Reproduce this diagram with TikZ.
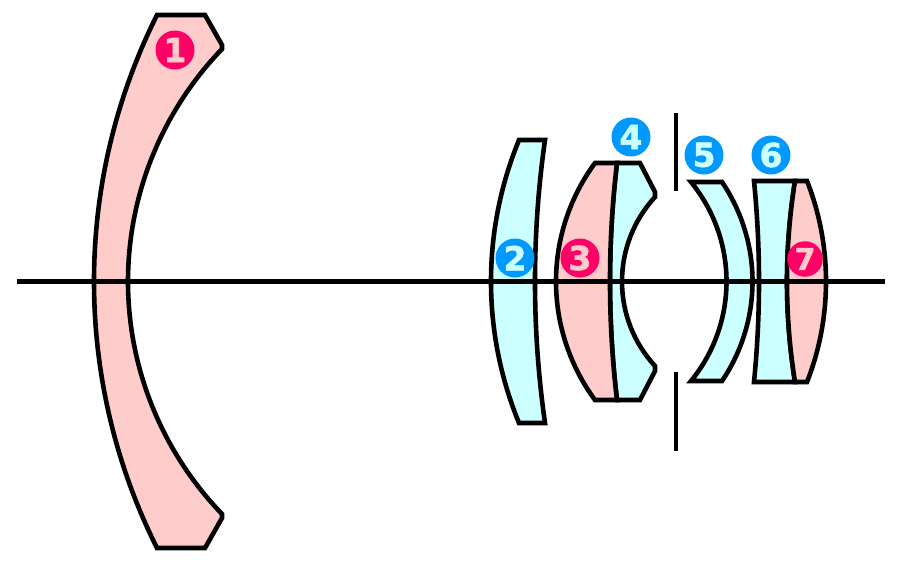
\documentclass[tikz,border=0pt]{standalone}
\usepackage{fontspec}
\setmainfont{DejaVu Sans}
\newfontfamily\badgefont[FakeBold=1.6]{DejaVu Sans Bold}
\definecolor{lenspink}{HTML}{FFCCCC}
\definecolor{lenscyan}{HTML}{CCFFFF}
\definecolor{badgepink}{HTML}{FF0066}
\definecolor{badgeblue}{HTML}{0099FF}
\tikzset{
  lenspos/.style={draw=black,line width=4.6pt,fill=lenspink,miter limit=10},
  lensneg/.style={draw=black,line width=4.6pt,fill=lenscyan,miter limit=10},
  rule/.style={draw=black,line width=4.6pt},
  badge/.style={circle,inner sep=0pt,minimum size=39pt,font=\fontsize{33}{33}\badgefont},
  badgep/.style={badge,fill=badgepink,text=lenspink},
  badgeb/.style={badge,fill=badgeblue,text=lenscyan}
}
\begin{document}
\begin{tikzpicture}[x=1pt,y=-1pt]
\useasboundingbox (0,0) rectangle (900,563);
% lens 1
\path[lenspos] (157,15) -- (205,15) -- (222,45) -- (222,49)
  .. controls (161.7,111.6) and (128,195) .. (128,281.5)
  .. controls (128,368) and (161.7,451.4) .. (222,514)
  -- (222,518) -- (205,548) -- (157,548)
  .. controls (115.5,465) and (94,374) .. (94,281.5)
  .. controls (94,189) and (115.5,98) .. (157,15) -- cycle;
% lens 2
\path[lensneg] (519,140) -- (545,140)
  .. controls (538.3,187) and (535,234) .. (535,281.5)
  .. controls (535,329) and (538.3,376) .. (545,423)
  -- (519,423)
  .. controls (500.5,378) and (491,330) .. (491,281.5)
  .. controls (491,233) and (500.5,185) .. (519,140) -- cycle;
% lens 4
\path[lensneg] (617,163) -- (640,163) -- (655,192) -- (655,197)
  .. controls (633.8,220) and (622,250) .. (622,281.5)
  .. controls (622,313) and (633.8,343) .. (655,366)
  -- (655,371) -- (640,400) -- (617,400)
  .. controls (612.3,360.7) and (610,321) .. (610,281.5)
  .. controls (610,242) and (612.3,202.3) .. (617,163) -- cycle;
% lens 3
\path[lenspos] (595,163) -- (617,163)
  .. controls (612.3,202.3) and (610,242) .. (610,281.5)
  .. controls (610,321) and (612.3,360.7) .. (617,400)
  -- (595,400)
  .. controls (569.7,365.7) and (556,324) .. (556,281.5)
  .. controls (556,239) and (569.7,197.3) .. (595,163) -- cycle;
% lens 5
\path[lensneg] (691,182) -- (722,182)
  .. controls (741.8,211.3) and (752.5,246) .. (752.5,281.5)
  .. controls (752.5,317) and (741.8,351.7) .. (722,381)
  -- (691,381)
  .. controls (713.9,353) and (726.5,318) .. (726.5,281.5)
  .. controls (726.5,245) and (713.9,210) .. (691,182) -- cycle;
% lens 6
\path[lensneg] (754,181) -- (795,181)
  .. controls (789.7,214.3) and (787,248) .. (787,281.5)
  .. controls (787,315) and (789.7,348.7) .. (795,382)
  -- (754,382)
  .. controls (757.3,348.7) and (759,315) .. (759,281.5)
  .. controls (759,248) and (757.3,214.3) .. (754,181) -- cycle;
% lens 7
\path[lenspos] (795,181) -- (807,181)
  .. controls (819.6,213) and (826,247) .. (826,281.5)
  .. controls (826,316) and (819.6,350) .. (807,382)
  -- (795,382)
  .. controls (789.7,348.7) and (787,315) .. (787,281.5)
  .. controls (787,248) and (789.7,214.3) .. (795,181) -- cycle;
% optical axis and stop
\coordinate (axisL) at (17,281.5);
\coordinate (axisR) at (885,281.5);
\coordinate (stopTa) at (676,113);
\coordinate (stopTb) at (676,191);
\coordinate (stopBa) at (676,372);
\coordinate (stopBb) at (676,451);
\draw[rule] (axisL) -- (axisR);
\draw[rule] (stopTa) -- (stopTb);
\draw[rule] (stopBa) -- (stopBb);
% badges
\node[badgep] (n1) at (175,50) {1};
\node[badgeb] (n2) at (515,258) {2};
\node[badgep] (n3) at (580,258) {3};
\node[badgeb] (n4) at (631,137) {4};
\node[badgeb] (n5) at (704,155) {5};
\node[badgeb] (n6) at (771,155) {6};
\node[badgep,minimum size=35.5pt,font=\fontsize{30}{30}\badgefont] (n7) at (805,259) {7};
\end{tikzpicture}
\end{document}
